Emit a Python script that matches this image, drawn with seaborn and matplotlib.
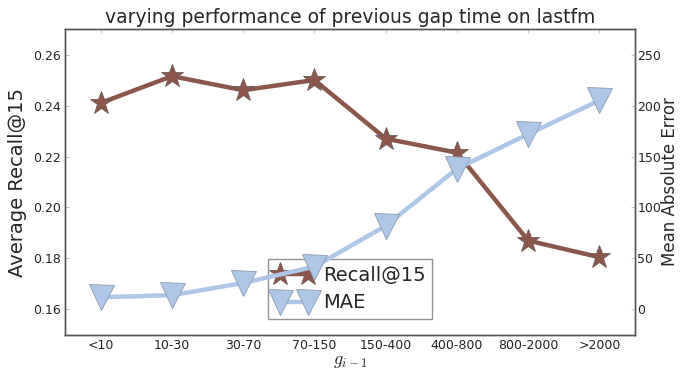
import numpy as np
import pandas as pd
import matplotlib
matplotlib.use("Agg")
import matplotlib.pyplot as plt
import seaborn as sns

# gap-time buckets and the two metrics measured on each
categories = ["<10", "10-30", "30-70", "70-150", "150-400", "400-800", "800-2000", ">2000"]
recall_at_15 = [0.241, 0.2515, 0.246, 0.250, 0.227, 0.2215, 0.187, 0.1805]
mae = [12, 14, 26, 42, 82, 138, 172, 205]

left_ticks = [0.16, 0.18, 0.20, 0.22, 0.24, 0.26]
right_ticks = [0, 50, 100, 150, 200, 250]

df = pd.DataFrame({"pos": np.arange(len(categories)),
                   "recall": recall_at_15, "mae": mae})

sns.set_style("white")
plt.rcParams["font.family"] = ["DejaVu Sans"]
plt.rcParams["mathtext.fontset"] = "cm"

fig = plt.figure(figsize=(6.8, 3.72), dpi=100)
ax1 = fig.add_axes([0.0956, 0.0995, 0.8384, 0.8225])
ax2 = ax1.twinx()

brown = "#8c564b"
light_blue = "#aec7e8"

sns.lineplot(data=df, x="pos", y="recall", ax=ax1, color=brown, lw=3.2,
             marker="*", markersize=17, markeredgecolor="#6b5a55",
             markeredgewidth=0.6, legend=False)
sns.lineplot(data=df, x="pos", y="mae", ax=ax2, color=light_blue, lw=3.2,
             marker="v", markersize=18, markeredgecolor="#8a9bb0",
             markeredgewidth=0.6, legend=False)

ax1.set_xlim(-0.5, len(categories) - 0.5)
ax1.set_ylim(0.15, 0.27)
ax2.set_ylim(-25, 275)
ax1.set_xticks(df["pos"])
ax1.set_xticklabels(categories)
ax1.set_yticks(left_ticks)
ax1.set_yticklabels([f"{t:.2f}" for t in left_ticks])
ax2.set_yticks(right_ticks)

for ax in (ax1, ax2):
    for s in ax.spines.values():
        s.set_color("#555555")
        s.set_linewidth(1.0)
    ax.tick_params(direction="in", length=3, width=0.6, color="#bbbbbb",
                   labelsize=9, labelcolor="#222222", pad=3)
ax1.tick_params(axis="x", top=True)
ax2.tick_params(axis="y", pad=1.5)

ax1.set_title("varying performance of previous gap time on lastfm",
              fontsize=13.5, pad=4)
ax1.set_ylabel("Average Recall@15", fontsize=14, labelpad=4)
ax2.set_ylabel("Mean Absolute Error", fontsize=12)
ax2.yaxis.set_label_coords(1.046, 0.5)
ax1.set_xlabel(r"$g_{i-1}$", fontsize=13, labelpad=0)

h1 = ax1.lines[0]
h2 = ax2.lines[0]
leg = ax1.legend([h1, h2], ["Recall@15", "MAE"], loc="lower center",
                 numpoints=2, fontsize=14, frameon=True, fancybox=False,
                 borderpad=0.35, handlelength=2.0, handletextpad=0.5,
                 labelspacing=0.45, bbox_to_anchor=(0.5, 0.02))
leg.get_frame().set_edgecolor("#777777")
leg.get_frame().set_linewidth(1.0)
ax1.set_zorder(ax2.get_zorder() - 1)
ax2.patch.set_visible(False)

fig.savefig("out.png", dpi=100)
